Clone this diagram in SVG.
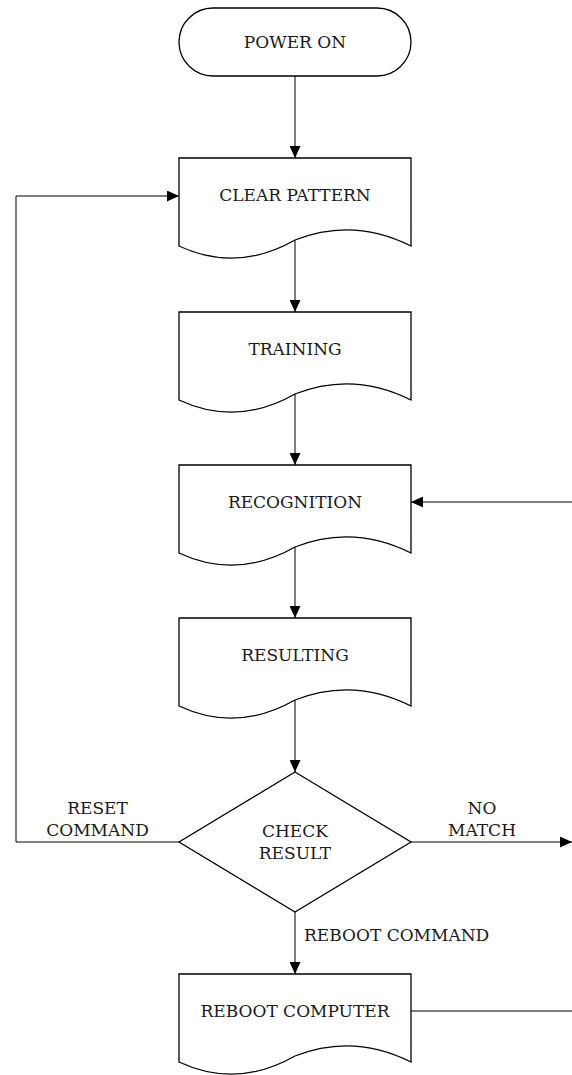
<svg xmlns="http://www.w3.org/2000/svg" width="572" height="1075" viewBox="0 0 572 1075">
<style>
.shape{fill:#fff;stroke:#000;stroke-width:1.3}
.edge{fill:none;stroke:#000;stroke-width:1}
text{font-family:"DejaVu Serif","Liberation Serif",serif;font-size:17px;fill:#1a1a1a}
.c{text-anchor:middle}
</style>
<defs>
<marker id="arr" markerUnits="userSpaceOnUse" markerWidth="12" markerHeight="11" refX="12" refY="5.5" orient="auto" viewBox="0 0 12 11">
<path d="M0,0 L12,5.5 L0,11 Z" fill="#000"/>
</marker>
</defs>
<g id="connectors">
<path class="edge" d="M295,76 V158" marker-end="url(#arr)"/>
<path class="edge" d="M295,240 V312" marker-end="url(#arr)"/>
<path class="edge" d="M295,394 V465" marker-end="url(#arr)"/>
<path class="edge" d="M295,547 V618" marker-end="url(#arr)"/>
<path class="edge" d="M295,700 V772" marker-end="url(#arr)"/>
<path class="edge" d="M295,912 V974" marker-end="url(#arr)"/>
<path class="edge" d="M179,842 H16 V196 H179" marker-end="url(#arr)"/>
<path class="edge" d="M411,842 H572" marker-end="url(#arr)"/>
<path class="edge" d="M572,502 H411" marker-end="url(#arr)"/>
<path class="edge" d="M411,1011 H572"/>
<text class="c" x="97.5" y="814">RESET</text>
<text class="c" x="97.5" y="836">COMMAND</text>
<text class="c" x="482" y="814">NO</text>
<text class="c" x="482" y="836">MATCH</text>
<text x="304" y="941">REBOOT COMMAND</text>
</g>
<g id="power-on">
<rect class="shape" x="179" y="8" width="232" height="68" rx="34" ry="34"/>
<text class="c" x="295" y="48">POWER ON</text>
</g>
<g id="clear-pattern">
<path class="shape" d="M179,158 H411 V246 Q353,217 295,240 Q237,273 179,246 Z"/>
<text class="c" x="295" y="201">CLEAR PATTERN</text>
</g>
<g id="training">
<path class="shape" d="M179,312 H411 V400 Q353,371 295,394 Q237,427 179,400 Z"/>
<text class="c" x="295" y="355">TRAINING</text>
</g>
<g id="recognition">
<path class="shape" d="M179,465 H411 V553 Q353,524 295,547 Q237,580 179,553 Z"/>
<text class="c" x="295" y="508">RECOGNITION</text>
</g>
<g id="resulting">
<path class="shape" d="M179,618 H411 V706 Q353,677 295,700 Q237,733 179,706 Z"/>
<text class="c" x="295" y="661">RESULTING</text>
</g>
<g id="check-result">
<path class="shape" d="M295,772 L411,842 L295,912 L179,842 Z"/>
<text class="c" x="295" y="837">CHECK</text>
<text class="c" x="295" y="859">RESULT</text>
</g>
<g id="reboot-computer">
<path class="shape" d="M179,974 H411 V1062 Q353,1033 295,1056 Q237,1089 179,1062 Z"/>
<text class="c" x="295" y="1017">REBOOT COMPUTER</text>
</g>
</svg>
